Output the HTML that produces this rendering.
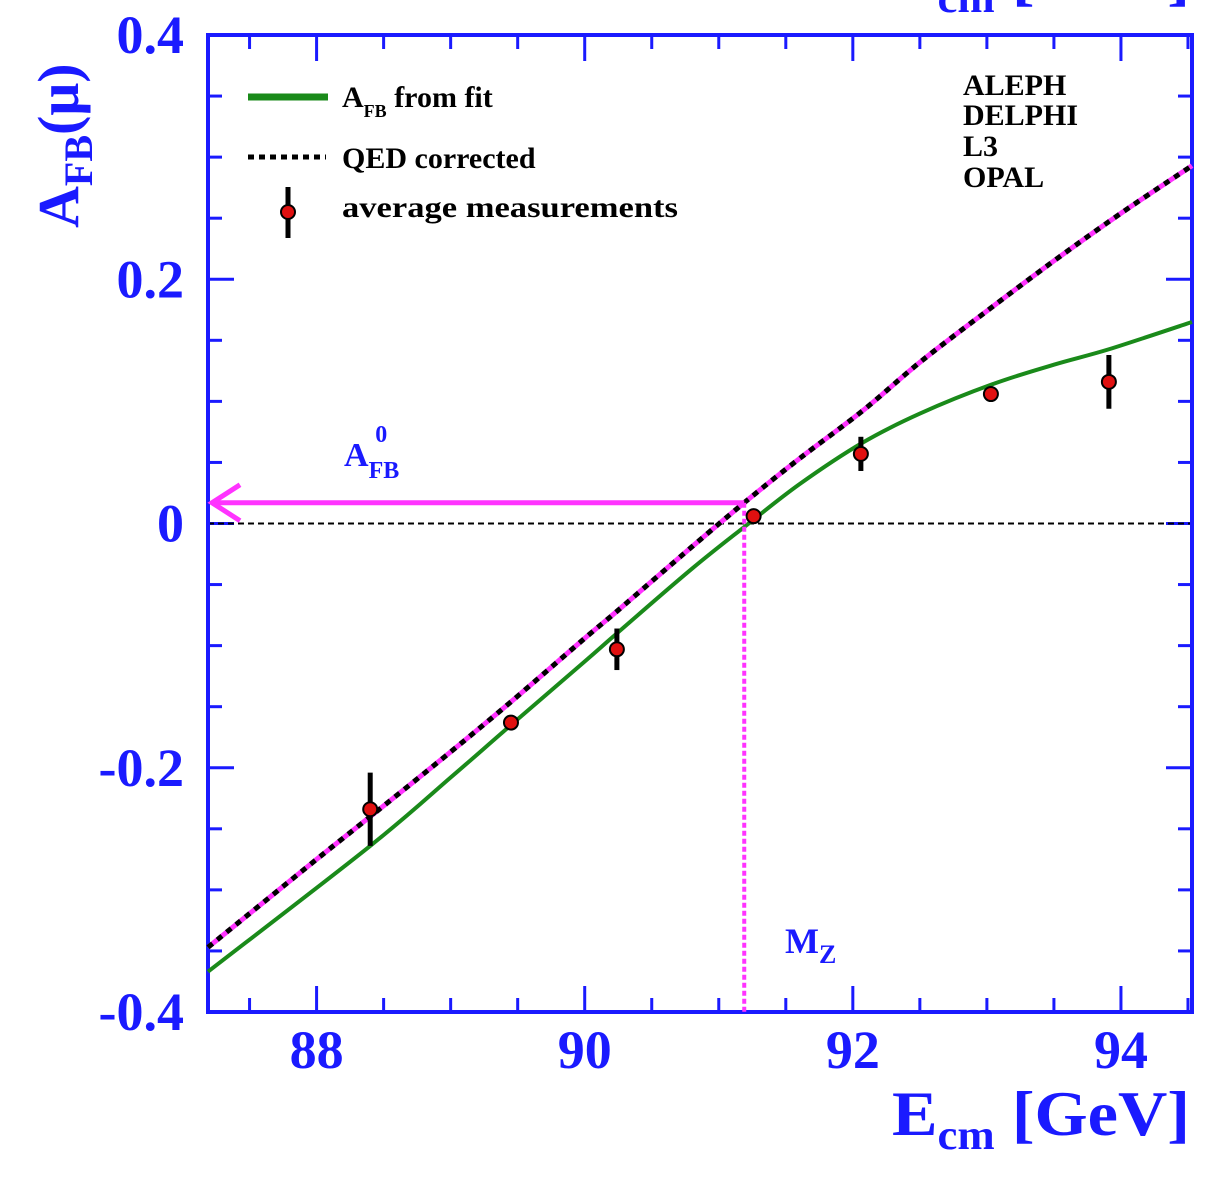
<!DOCTYPE html>
<html><head><meta charset="utf-8"><style>
html,body{margin:0;padding:0;background:#fff;}
svg{display:block;font-family:"Liberation Serif",serif;}
</style></head><body>
<svg id="chart" width="1230" height="1178" viewBox="0 0 1230 1178">
<g id="grid"></g>
<g id="curves"></g>
<g id="points"></g>
<g id="labels"></g>
</svg>
<script>
const energies = [88.4, 89.45, 90.24, 91.26, 92.06, 93.03, 93.91];
const afbValues = [-0.234, -0.163, -0.103, 0.006, 0.057, 0.106, 0.116];
const afbErrors = [0.03, 0.006, 0.017, 0.005, 0.014, 0.005, 0.022];
const fitX = [87.19, 88.4, 89.0, 89.45, 90.0, 90.25, 90.8, 91.2, 91.6, 92.07, 92.5, 93.04, 93.5, 93.92, 94.53];
const fitY = [-0.367, -0.264, -0.208, -0.165, -0.113, -0.089, -0.037, -0.002, 0.032, 0.066, 0.09, 0.114, 0.13, 0.143, 0.165];
const qedX = [87.19, 88.0, 88.4, 89.0, 89.45, 90.0, 90.25, 90.8, 91.19, 91.6, 92.07, 92.5, 93.0, 93.5, 94.0, 94.53];
const qedY = [-0.347, -0.275, -0.24, -0.187, -0.146, -0.094, -0.071, -0.019, 0.017, 0.053, 0.092, 0.132, 0.174, 0.215, 0.254, 0.293];
const xTicks = [88, 90, 92, 94];
const yTicks = [-0.4, -0.2, 0, 0.2, 0.4];
const yTickLabels = ["-0.4", "-0.2", "0", "0.2", "0.4"];
const mzValue = 91.19, afb0Value = 0.017;

const L=208,R=1192,T=35,B=1012;
const X0=87.19,X1=94.53,Y0=-0.4,Y1=0.4;
const sx=v=>L+(v-X0)/(X1-X0)*(R-L);
const sy=v=>B-(v-Y0)/(Y1-Y0)*(B-T);
const NS="http://www.w3.org/2000/svg";
function mk(parent,tag,attrs,text){const e=document.createElementNS(NS,tag);for(const k in attrs)e.setAttribute(k,attrs[k]);if(text!==undefined)e.textContent=text;parent.appendChild(e);return e;}
const grid=document.getElementById('grid'),curves=document.getElementById('curves'),pts=document.getElementById('points'),labels=document.getElementById('labels');
const blue="#1a1aff";

for(let v=87.5;v<=94.5;v+=0.5){
  const major=Math.abs(v-Math.round(v/2)*2)<1e-6;
  const len=major?26:14;
  const x=sx(v);
  const t1=mk(grid,'line',{x1:x,x2:x,y1:B,y2:B-len,stroke:blue,'stroke-width':3});
  
  
  const t2=mk(grid,'line',{x1:x,x2:x,y1:T,y2:T+len,stroke:blue,'stroke-width':3});
  
  
}
for(let i=-8;i<=8;i++){
  const v=i*0.05;
  const major=i%4===0;
  const len=major?26:14;
  const y=sy(v);
  const t1=mk(grid,'line',{x1:L,x2:L+len,y1:y,y2:y,stroke:blue,'stroke-width':3});
  
  
  const t2=mk(grid,'line',{x1:R,x2:R-len,y1:y,y2:y,stroke:blue,'stroke-width':3});
  
  
}
const zl=mk(grid,'line',{x1:L,x2:R,y1:sy(0),y2:sy(0),stroke:'#000','stroke-width':2,'stroke-dasharray':'6,4'});


const fr=mk(grid,'rect',{x:L,y:T,width:R-L,height:B-T,fill:'none',stroke:blue,'stroke-width':4});



xTicks.forEach(v=>{
  const t=mk(labels,'text',{x:sx(v),y:1068,'text-anchor':'middle','font-size':54,'font-weight':'bold',fill:blue},String(v));
  
  
});
yTicks.forEach((v,i)=>{
  const t=mk(labels,'text',{x:184,y:sy(v)+18,'text-anchor':'end','font-size':54,'font-weight':'bold',fill:blue},yTickLabels[i]);
  
  
});

function smooth(xs,ys){
  const p=xs.map((x,i)=>[sx(x),sy(ys[i])]);
  let d='M'+p[0][0].toFixed(1)+','+p[0][1].toFixed(1);
  for(let i=0;i<p.length-1;i++){
    const p0=p[i-1]||p[i],p1=p[i],p2=p[i+1],p3=p[i+2]||p2;
    const c1=[p1[0]+(p2[0]-p0[0])/6,p1[1]+(p2[1]-p0[1])/6];
    const c2=[p2[0]-(p3[0]-p1[0])/6,p2[1]-(p3[1]-p1[1])/6];
    d+=` C${c1[0].toFixed(1)},${c1[1].toFixed(1)} ${c2[0].toFixed(1)},${c2[1].toFixed(1)} ${p2[0].toFixed(1)},${p2[1].toFixed(1)}`;
  }
  return d;
}
const fit=mk(curves,'path',{d:smooth(fitX,fitY),fill:'none',stroke:'#1a8a1a','stroke-width':4});


const qm=mk(curves,'path',{d:smooth(qedX,qedY),fill:'none',stroke:'#ff33ff','stroke-width':5});


const qd=mk(curves,'path',{d:smooth(qedX,qedY),fill:'none',stroke:'#000','stroke-width':5,'stroke-dasharray':'6,6'});



const vm=mk(curves,'line',{x1:sx(mzValue),x2:sx(mzValue),y1:sy(afb0Value),y2:B,stroke:'#ff33ff','stroke-width':4,'stroke-dasharray':'5,3'});


const ha=mk(curves,'line',{x1:sx(mzValue),x2:L+4,y1:sy(afb0Value),y2:sy(afb0Value),stroke:'#ff33ff','stroke-width':5});


const ah=mk(curves,'path',{d:`M${L+32},${sy(afb0Value)-18} L${L+4},${sy(afb0Value)} L${L+32},${sy(afb0Value)+18}`,fill:'none',stroke:'#ff33ff','stroke-width':5});



energies.forEach((e,i)=>{
  const x=sx(e),y=sy(afbValues[i]);
  const eb=mk(pts,'line',{x1:x,x2:x,y1:sy(afbValues[i]+afbErrors[i]),y2:sy(afbValues[i]-afbErrors[i]),stroke:'#000','stroke-width':5});
  
  
  const c=mk(pts,'circle',{cx:x,cy:y,r:7,fill:'#e01010',stroke:'#000','stroke-width':2});
  
  
});
</script>
<svg style="position:absolute;left:0;top:0" width="1230" height="1178">
<g font-family="Liberation Serif,serif" font-weight="bold">
<line x1="248" y1="97" x2="328" y2="97" stroke="#1a8a1a" stroke-width="7"/>
<text x="342" y="107" font-size="30" fill="#000">A<tspan font-size="18" dy="10">FB</tspan><tspan dy="-10"> from fit</tspan></text>
<line x1="248" y1="157" x2="326" y2="157" stroke="#000" stroke-width="5" stroke-dasharray="6,5"/>
<text x="342" y="168" font-size="30" fill="#000">QED corrected</text>
<line x1="288" y1="187" x2="288" y2="238" stroke="#000" stroke-width="5"/>
<circle cx="288" cy="212" r="7" fill="#e01010" stroke="#000" stroke-width="2"/>
<text x="342" y="217" font-size="30" fill="#000" textLength="336" lengthAdjust="spacingAndGlyphs">average  measurements</text>
<text font-size="30" fill="#000"><tspan x="963" y="95">ALEPH</tspan><tspan x="963" y="125">DELPHI</tspan><tspan x="963" y="156">L3</tspan><tspan x="963" y="187">OPAL</tspan></text>
<text x="344" y="466" font-size="34" fill="#1a1aff">A<tspan font-size="24" dy="12">FB</tspan><tspan font-size="24" dx="-24" dy="-36">0</tspan></text>
<text x="785" y="953" font-size="36" fill="#1a1aff">M<tspan font-size="26" dy="10">Z</tspan></text>
<text x="892" y="1135" font-size="64" fill="#1a1aff" textLength="298" lengthAdjust="spacingAndGlyphs">E<tspan font-size="42" dy="14">cm</tspan><tspan dy="-14"> [GeV]</tspan></text>
<text x="892" y="-2" font-size="64" fill="#1a1aff" textLength="298" lengthAdjust="spacingAndGlyphs">E<tspan font-size="42" dy="14">cm</tspan><tspan dy="-14"> [GeV]</tspan></text>
<text transform="translate(78,228) rotate(-90)" font-size="58" fill="#1a1aff">A<tspan font-size="40" dy="14">FB</tspan><tspan dy="-14">(μ)</tspan></text>
</g>
</svg>
</body></html>
